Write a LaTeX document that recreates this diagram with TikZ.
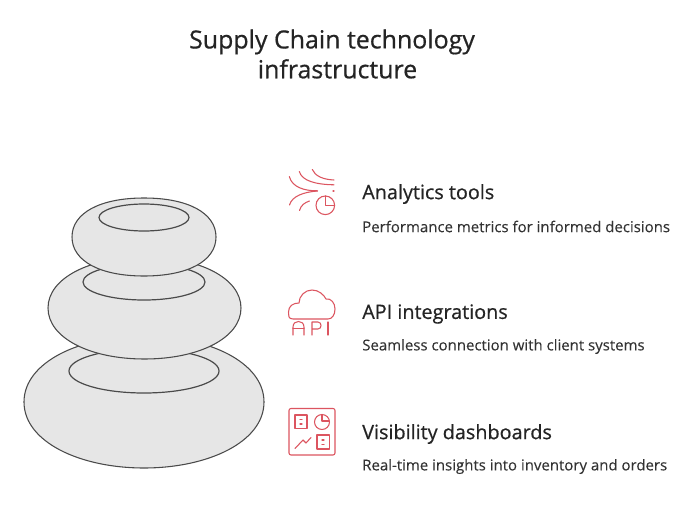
\documentclass[tikz,border=0pt]{standalone}
\usepackage{fontspec}
\setmainfont{Open Sans}
\newfontfamily\medfont[FakeBold=0.6]{Open Sans}
\newfontfamily\regfont[FakeBold=0.1]{Open Sans}
\definecolor{ink}{HTML}{242424}
\definecolor{sub}{HTML}{333333}
\definecolor{iconred}{HTML}{DC5560}
\definecolor{stone}{HTML}{E6E6E6}
\definecolor{stoneline}{HTML}{4A4A4A}
\begin{document}
\begin{tikzpicture}[x=0.75pt,y=-0.75pt,
  stoneshape/.style={fill=stone,draw=stoneline,line width=0.8pt},
  hole/.style={draw=stoneline,line width=0.9pt},
  icon/.style={draw=iconred,line width=0.8pt,line cap=round,line join=round},
  heading/.style={anchor=west,font=\medfont\fontsize{14.85pt}{17pt}\selectfont,text=ink,inner sep=0pt},
  detail/.style={anchor=west,font=\regfont\fontsize{11.23pt}{13pt}\selectfont,text=sub,inner sep=0pt},
  titletext/.style={align=center,font=\medfont\fontsize{18.7pt}{22.4pt}\selectfont,text=ink,inner sep=0pt}]
\useasboundingbox (0,0) rectangle (685,528);
\fill[white] (0,0) rectangle (685,528);
\node[titletext] (title) at (332,54) {Supply Chain technology\\\hspace*{8.25pt}infrastructure};
% stones
\path[stoneshape] (24,402) .. controls (24,362) and (80,336) .. (144,336) .. controls (208,336) and (264,362) .. (264,402) .. controls (264,442) and (208,468) .. (144,468) .. controls (80,468) and (24,442) .. (24,402) -- cycle;
\path[hole] (144,371) ellipse [x radius=75,y radius=22];
\path[stoneshape] (48,308) .. controls (48,278) and (90,257) .. (144.5,257) .. controls (199,257) and (241,278) .. (241,308) .. controls (241,338) and (199,359) .. (144.5,359) .. controls (90,359) and (48,338) .. (48,308) -- cycle;
\path[hole] (144,282) ellipse [x radius=61,y radius=18];
\path[stoneshape] (72,237) .. controls (72,213) and (100,198) .. (144,198) .. controls (188,198) and (216,213) .. (216,237) .. controls (216,261) and (188,276) .. (144,276) .. controls (100,276) and (72,261) .. (72,237) -- cycle;
\path[hole] (144,217.5) ellipse [x radius=45,y radius=13.5];
% analytics icon
\draw[icon] (312.3,169.5) .. controls (315,176) and (323,179.5) .. (334,180);
\draw[icon] (299.3,171.5) .. controls (302,181) and (316,184.5) .. (334,184.8);
\draw[icon] (289.3,176.5) .. controls (292,187) and (304,191) .. (317.5,190.8);
\draw[icon] (333,191) -- (334,191);
\draw[icon] (289.5,205) .. controls (292,196) and (304,192) .. (317.5,191);
\draw[icon] (299.5,210.5) .. controls (301,205) and (305,202.5) .. (309.5,201);
\draw[icon] (325.3,205.3) circle [radius=9.3];
\draw[icon] (325.3,196) -- (325.3,205.3) -- (334.6,205.3);
% api icon
\draw[icon] (293,319) .. controls (288,319) and (288.5,315) .. (288.5,312) .. controls (288.5,306) and (293,303) .. (299,303) .. controls (299,296) and (305,290) .. (312,290) .. controls (319,290) and (324,295) .. (326,299) .. controls (331,298) and (335,303) .. (335,309) .. controls (335,315) and (332,319) .. (328,319) -- cycle;
\draw[icon] (293,335) -- (293,327) .. controls (293,323) and (296,321.5) .. (298.5,321.5) .. controls (301,321.5) and (304,323) .. (304,327) -- (304,335);
\draw[icon] (293,328.5) -- (304,328.5);
\draw[icon] (312,335) -- (312,322) -- (318,322) .. controls (322,322) and (322,329) .. (318,329) -- (312,329);
\draw[icon] (328,322) -- (328,335);
% dashboard icon
\draw[icon,rounded corners=1.5pt] (289,408.5) rectangle (335,455);
\draw[icon] (295,415) rectangle (307,428.5);
\draw[icon] (300,419.5) -- (302,419.5);
\draw[icon] (300,424) -- (302,424);
\draw[icon] (322,422) circle [radius=7.5];
\draw[icon] (322,414.5) -- (322,421) -- (329,421);
\draw[icon] (295,448.5) -- (303,440) -- (306,443) -- (311,437.5);
\draw[icon] (317,435) rectangle (329.5,449);
\draw[icon] (322,440) -- (324,440);
\draw[icon] (322,444.5) -- (324,444.5);
% texts
\node[heading] (h1) at (362,194) {Analytics tools};
\node[detail] (d1) at (362,226.5) {Performance metrics for informed decisions};
\node[heading] (h2) at (362,314) {API integrations};
\node[detail] (d2) at (362,346.5) {Seamless connection with client systems};
\node[heading] (h3) at (362,434) {Visibility dashboards};
\node[detail] (d3) at (362,466.5) {Real-time insights into inventory and orders};
\end{tikzpicture}
\end{document}
